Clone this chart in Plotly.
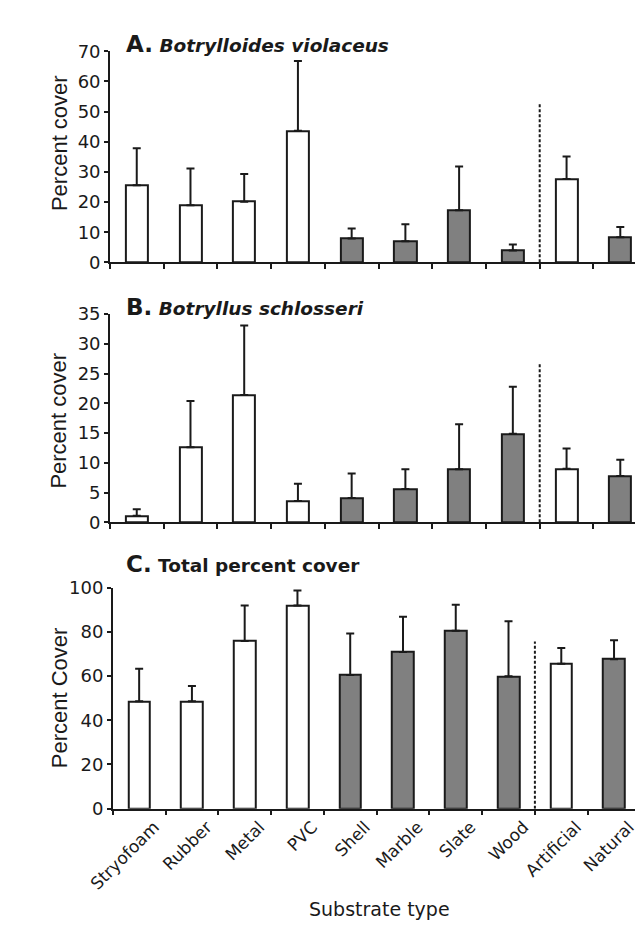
import plotly.graph_objects as go

categories = ["Stryofoam", "Rubber", "Metal", "PVC", "Shell", "Marble", "Slate", "Wood", "Artificial", "Natural"]
groups = ["artificial"] * 4 + ["natural"] * 4 + ["artificial", "natural"]

# Panel A: Botrylloides violaceus
a_mean = [25.6, 18.9, 20.1, 43.6, 7.9, 7.0, 17.3, 3.9, 27.6, 8.3]
a_err = [12.2, 12.2, 9.2, 23.2, 3.3, 5.6, 14.5, 2.0, 7.5, 3.4]
# Panel B: Botryllus schlosseri
b_mean = [1.1, 12.6, 21.4, 3.6, 4.1, 5.6, 8.9, 14.9, 9.0, 7.8]
b_err = [1.1, 7.8, 11.7, 2.9, 4.1, 3.3, 7.6, 7.9, 3.4, 2.7]
# Panel C: Total percent cover
c_mean = [48.6, 48.6, 75.9, 92.0, 60.5, 70.9, 80.5, 59.9, 65.6, 67.7]
c_err = [14.7, 6.9, 16.1, 6.8, 18.8, 16.0, 11.8, 25.0, 7.1, 8.5]

# dashed separator heights (data units)
sep_heights = [53, 26.9, 75.7]
y_ranges = [[0, 70], [0, 35], [0, 100]]
y_dticks = [10, 5, 20]

W, H = 643, 925
INK = "#1a1a1a"
GRAY = "#808080"
color_map = {"artificial": "white", "natural": GRAY}
fills = [color_map[g] for g in groups]

TICKFONT = dict(family="DejaVu Sans", size=18, color=INK)

fig = go.Figure()
panels = [(a_mean, a_err), (b_mean, b_err), (c_mean, c_err)]
for i, (m, e) in enumerate(panels):
    suffix = "" if i == 0 else str(i + 1)
    fig.add_trace(go.Bar(
        x=categories, y=m,
        xaxis="x" + suffix, yaxis="y" + suffix,
        width=0.41,
        marker=dict(color=fills, line=dict(color=INK, width=2)),
        error_y=dict(type="data", array=e, arrayminus=[0] * len(e), symmetric=False,
                     color=INK, thickness=2, width=4),
        showlegend=False, hoverinfo="skip",
    ))

def px_x(p):
    return p / W

def px_y(p):
    return 1 - p / H

xdoms = [[px_x(80), px_x(639)], [px_x(80), px_x(639)], [px_x(83), px_x(632)]]
ydoms = [[px_y(249), px_y(33)], [px_y(515), px_y(302)], [px_y(808), px_y(582)]]

layout = dict(
    width=W, height=H,
    margin=dict(l=0, r=0, t=0, b=0),
    paper_bgcolor="white", plot_bgcolor="white",
    bargap=0, showlegend=False,
)
for i in range(3):
    suffix = "" if i == 0 else str(i + 1)
    layout["xaxis" + suffix] = dict(
        domain=xdoms[i], anchor="y" + suffix,
        type="category", categoryorder="array", categoryarray=categories,
        range=[-0.5, len(categories) - 0.5],
        showline=True, linecolor=INK, linewidth=1.5,
        ticks="outside", tickson="boundaries", ticklen=5, tickwidth=1.5, tickcolor=INK,
        showgrid=False, zeroline=False,
        showticklabels=(i == 2),
        tickangle=-45, tickfont=dict(family="DejaVu Sans", size=17, color=INK),
        ticklabelshift=15,
    )
    layout["yaxis" + suffix] = dict(
        domain=ydoms[i], anchor="x" + suffix,
        range=y_ranges[i], dtick=y_dticks[i], tick0=0,
        showline=True, linecolor=INK, linewidth=1.5,
        ticks="outside", ticklen=4, tickwidth=1.5, tickcolor=INK,
        showgrid=False, zeroline=False,
        tickfont=TICKFONT,
    )
fig.update_layout(**layout)

# dashed separators between individual substrates and pooled groups
for i in range(3):
    suffix = "" if i == 0 else str(i + 1)
    fig.add_shape(type="line", xref="x" + suffix, yref="y" + suffix,
                  x0=7.5, x1=7.5, y0=0, y1=sep_heights[i],
                  line=dict(color=INK, width=2, dash="3px,2px"))

# panel titles
titles = [
    ("<span style='font-size:23px'>A.</span> <i>Botrylloides violaceus</i>", 26),
    ("<span style='font-size:23px'>B.</span> <i>Botryllus schlosseri</i>", 295),
    ("<span style='font-size:23px'>C.</span> Total percent cover", 558),
]
for txt, yc in titles:
    fig.add_annotation(text="<b>" + txt + "</b>", xref="paper", yref="paper",
                       x=px_x(95), y=px_y(yc), xanchor="left", yanchor="middle",
                       showarrow=False, font=dict(family="DejaVu Sans", size=18.5, color=INK))

# y-axis titles
ytitles = [("Percent cover", 127), ("Percent cover", 411), ("Percent Cover", 694)]
for txt, yc in ytitles:
    fig.add_annotation(text=txt, xref="paper", yref="paper",
                       x=px_x(27), y=px_y(yc), xanchor="center", yanchor="middle",
                       textangle=-90, showarrow=False,
                       font=dict(family="Liberation Sans", size=22, color=INK))

# x-axis title
fig.add_annotation(text="Substrate type", xref="paper", yref="paper",
                   x=px_x(360), y=px_y(911), xanchor="center", yanchor="middle",
                   showarrow=False, font=dict(family="DejaVu Sans", size=19, color=INK))

fig.write_html("out.html")
